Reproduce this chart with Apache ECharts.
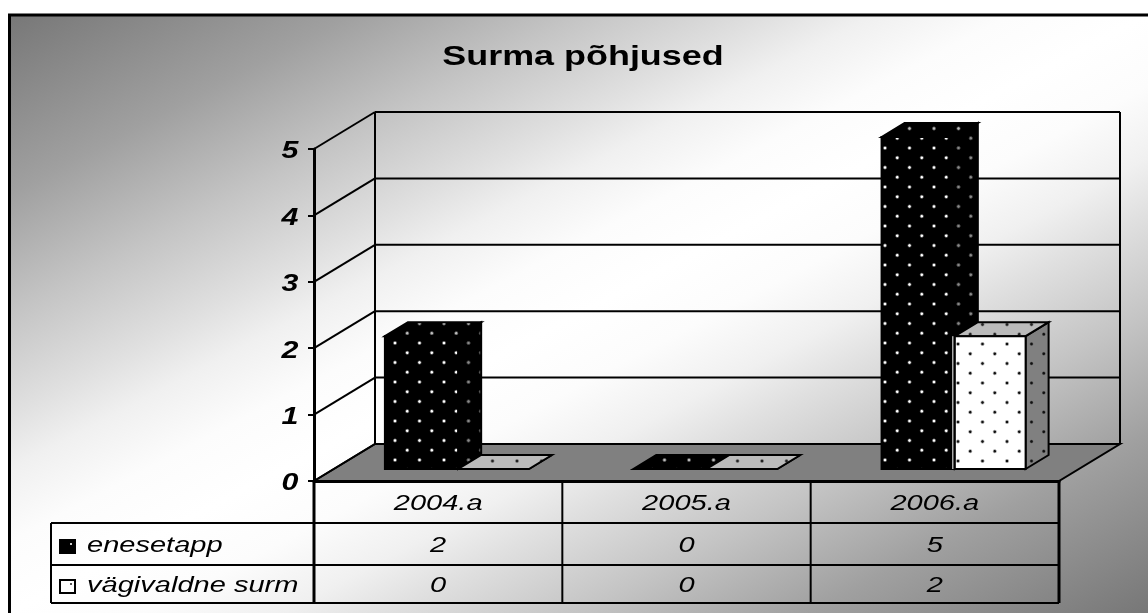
<!DOCTYPE html>
<html>
<head>
<meta charset="utf-8">
<style>html,body{margin:0;padding:0;background:#fff}#main{width:1148px;height:613px}</style>
<script src="https://cdn.jsdelivr.net/npm/echarts@6/dist/echarts.min.js"></script>
</head>
<body>
<div id="main"></div>
<script>
const titleText = 'Surma põhjused';
const categories = ['2004.a', '2005.a', '2006.a'];
const yTicks = [0, 1, 2, 3, 4, 5];
const seriesNames = ['enesetapp', 'vägivaldne surm'];
const enesetapp = [2, 0, 5];
const vagivaldne = [0, 0, 2];

// the picture is stretched sideways, so text gets the same stretch
const stretch = 1.32;
const fontName = '"Liberation Sans", Arial, sans-serif';
// 3d offsets: wall depth, bar position on the floor, bar depth
const wall = [61, -37];
const barShift = [20, -12];
const barDepth = [23, -14];
const barWidths = [0.295, 0.285];
const rowY = [481, 523, 565, 603];
const tableLeft = 51;

function makeTile(bg, dot, halo, x0, y0) {
    const w = 49, h = 39;
    const c = document.createElement('canvas');
    c.width = w; c.height = h;
    const g = c.getContext('2d');
    g.fillStyle = bg;
    g.fillRect(0, 0, w, h);
    for (let k = 0; k < 4; k++) {
        for (let j = 0; j < 2; j++) {
            const px = (x0 + (k % 2) * 12.25 + j * 24.5) % w;
            const py = (y0 + k * 9.75) % h;
            [-w, 0, w].forEach(ox => [-h, 0, h].forEach(oy => {
                const r = g.createRadialGradient(px + ox, py + oy, 0.2, px + ox, py + oy, 2.4);
                r.addColorStop(0, dot);
                r.addColorStop(0.3, dot);
                r.addColorStop(0.6, halo);
                r.addColorStop(1, 'rgba(128,128,128,0)');
                g.fillStyle = r;
                g.fillRect(px + ox - 3, py + oy - 3, 6, 6);
            }));
        }
    }
    return {image: c, repeat: 'repeat'};
}

const faces = [
    {
        front: makeTile('#000', '#fff', 'rgba(150,150,150,0.7)', 885, 304),
        side: makeTile('#000', '#888', 'rgba(90,90,90,0.7)', 885, 304),
        top: makeTile('#000', '#bbb', 'rgba(120,120,120,0.7)', 885, 304)
    },
    {
        front: makeTile('#fff', '#111', 'rgba(120,120,120,0.7)', 958, 344),
        side: makeTile('#808080', '#111', 'rgba(60,60,60,0.7)', 958, 344),
        top: makeTile('#bbb', '#222', 'rgba(90,90,90,0.7)', 958, 344)
    }
];

function label(x, y, text, opts) {
    return {
        type: 'text',
        x: x,
        y: y,
        scaleX: stretch,
        style: Object.assign({
            text: String(text),
            fontFamily: fontName,
            fontStyle: 'italic',
            fontSize: 22,
            align: 'center',
            verticalAlign: 'middle',
            fill: '#000'
        }, opts)
    };
}

function line(x1, y1, x2, y2, width) {
    return {
        type: 'line',
        shape: {x1: x1, y1: y1, x2: x2, y2: y2},
        style: {stroke: '#000', lineWidth: width || 2}
    };
}

function poly(points, fill) {
    return {
        type: 'polygon',
        shape: {points: points},
        style: {fill: fill, stroke: '#000', lineWidth: 2, lineJoin: 'miter'}
    };
}

// walls and floor
function renderWalls(params, api) {
    const t = api.value(0);
    const p = api.coord([0, t]);
    const x0 = params.coordSys.x;
    const x1 = x0 + params.coordSys.width;
    const y = p[1];
    const kids = [];
    if (t === 0) {
        kids.push(poly([[x0, y], [x0 + wall[0], y + wall[1]], [x1 + wall[0], y + wall[1]], [x1, y]], '#808080'));
    } else {
        kids.push(line(x0 + wall[0], y + wall[1], x1 + wall[0], y + wall[1]));
    }
    kids.push(line(x0, y, x0 + wall[0], y + wall[1]));
    if (t === yTicks[yTicks.length - 1]) {
        const yb = api.coord([0, 0])[1] + wall[1];
        kids.push(line(x0 + wall[0], y + wall[1], x0 + wall[0], yb));
        kids.push(line(x1 + wall[0], y + wall[1], x1 + wall[0], yb));
    }
    return {type: 'group', children: kids};
}

function barRenderer(seriesIndex) {
    return function (params, api) {
        const base = api.coord([api.value(0), 0]);
        const top = api.coord([api.value(0), api.value(1)]);
        const w = api.size([1, 0])[0] * barWidths[seriesIndex];
        const l = base[0] + barShift[0] + (seriesIndex === 0 ? -w : 0);
        const r = l + w;
        const yb = base[1] + barShift[1];
        const yt = top[1] + barShift[1];
        const dx = barDepth[0], dy = barDepth[1];
        const f = faces[seriesIndex];
        const kids = [
            poly([[r, yb], [r + dx, yb + dy], [r + dx, yt + dy], [r, yt]], f.side),
            poly([[l, yt], [l + dx, yt + dy], [r + dx, yt + dy], [r, yt]], f.top),
            poly([[l, yb], [l, yt], [r, yt], [r, yb]], f.front)
        ];
        if (seriesIndex === 1 && api.value(1) > 0) {
            kids.push({
                type: 'line',
                shape: {x1: l - 2, y1: yb, x2: l - 2, y2: yt},
                style: {stroke: '#fff', lineWidth: 1}
            });
        }
        return {type: 'group', children: kids};
    };
}

function renderYLabel(params, api) {
    const p = api.coord([0, api.value(0)]);
    return label(params.coordSys.x - 24, p[1] + 3, api.value(0), {fontWeight: 'bold', fontSize: 23});
}

// data table under the plot, one data item per row
function renderTable(params, api) {
    const row = api.value(0);
    const cs = params.coordSys;
    const kids = [];
    const band = api.size([1, 0])[0];
    const yTop = rowY[row], yBottom = rowY[row + 1];
    const yMid = (yTop + yBottom) / 2 + 2;
    const x1 = cs.x + cs.width;
    kids.push(line(tableLeft, yBottom, x1, yBottom));
    kids.push(line(x1, yTop, x1, yBottom, 3));
    kids.push(line(cs.x, yTop, cs.x, yBottom, 3));
    categories.forEach((c, i) => {
        const cx = api.coord([i, 0])[0];
        if (i > 0) kids.push(line(cx - band / 2, yTop, cx - band / 2, yBottom));
        const text = row === 0 ? c : (row === 1 ? enesetapp[i] : vagivaldne[i]);
        kids.push(label(cx, yMid, text));
    });
    if (row > 0) {
        kids.push(line(tableLeft, yTop, tableLeft, yBottom));
        kids.push({
            type: 'rect',
            shape: {x: 60, y: yMid - 6, width: 15, height: 13},
            style: {fill: row === 1 ? '#000' : '#fff', stroke: '#000', lineWidth: 2}
        });
        kids.push({
            type: 'rect',
            shape: {x: 70, y: yMid - 3, width: 2, height: 2},
            style: {fill: row === 1 ? '#ccc' : '#555'}
        });
        kids.push(label(87, yMid, seriesNames[row - 1], {align: 'left'}));
    }
    return {type: 'group', children: kids};
}

let container = document.getElementById('main');
let chart = echarts.init(container, null, {renderer: 'canvas'});

chart.setOption({
    animation: false,
    backgroundColor: '#fff',
    graphic: [
        {
            type: 'rect',
            z: -1,
            shape: {x: 9.5, y: 15, width: 1150, height: 610},
            style: {
                fill: new echarts.graphic.LinearGradient(332, -155, 825, 783, [
                    {offset: 0, color: '#777'},
                    {offset: 0.15, color: '#a0a0a0'},
                    {offset: 0.25, color: '#c4c4c4'},
                    {offset: 0.335, color: '#e0e0e0'},
                    {offset: 0.38, color: '#f0f0f0'},
                    {offset: 0.44, color: '#fcfcfc'},
                    {offset: 0.5, color: '#fff'},
                    {offset: 0.56, color: '#fcfcfc'},
                    {offset: 0.62, color: '#f0f0f0'},
                    {offset: 0.665, color: '#e0e0e0'},
                    {offset: 0.75, color: '#c4c4c4'},
                    {offset: 0.85, color: '#a0a0a0'},
                    {offset: 1, color: '#777'}
                ], true),
                stroke: '#000',
                lineWidth: 3
            }
        },
        {
            type: 'text',
            z: 10,
            x: 583,
            y: 58,
            scaleX: 1.33,
            style: {
                text: titleText,
                fontFamily: fontName,
                fontWeight: 'bold',
                fontSize: 27,
                align: 'center',
                verticalAlign: 'middle',
                fill: '#000'
            }
        }
    ],
    grid: {left: 314, top: 149, width: 745, height: 332},
    xAxis: {
        type: 'category',
        data: categories,
        axisTick: {show: false},
        axisLabel: {show: false},
        axisLine: {lineStyle: {color: '#000', width: 3}}
    },
    yAxis: {
        type: 'value',
        min: 0,
        max: 5,
        interval: 1,
        splitLine: {show: false},
        axisLabel: {show: false},
        axisTick: {show: true, length: 6, lineStyle: {color: '#000', width: 2}},
        axisLine: {show: true, lineStyle: {color: '#000', width: 3}}
    },
    series: [
        {
            name: 'walls',
            type: 'custom',
            z: 1,
            silent: true,
            clip: false,
            renderItem: renderWalls,
            encode: {x: -1, y: 0},
            data: yTicks.map(t => [t])
        },
        {
            name: seriesNames[0],
            type: 'custom',
            z: 3,
            clip: false,
            renderItem: barRenderer(0),
            encode: {x: 0, y: 1},
            data: enesetapp.map((v, i) => [i, v])
        },
        {
            name: seriesNames[1],
            type: 'custom',
            z: 4,
            clip: false,
            renderItem: barRenderer(1),
            encode: {x: 0, y: 1},
            data: vagivaldne.map((v, i) => [i, v])
        },
        {
            name: 'yLabels',
            type: 'custom',
            z: 5,
            silent: true,
            clip: false,
            renderItem: renderYLabel,
            encode: {x: -1, y: 0},
            data: yTicks.map(t => [t])
        },
        {
            name: 'table',
            type: 'custom',
            z: 5,
            silent: true,
            clip: false,
            renderItem: renderTable,
            encode: {x: -1, y: -1},
            data: [[0], [1], [2]]
        }
    ]
});
</script>
</body>
</html>
